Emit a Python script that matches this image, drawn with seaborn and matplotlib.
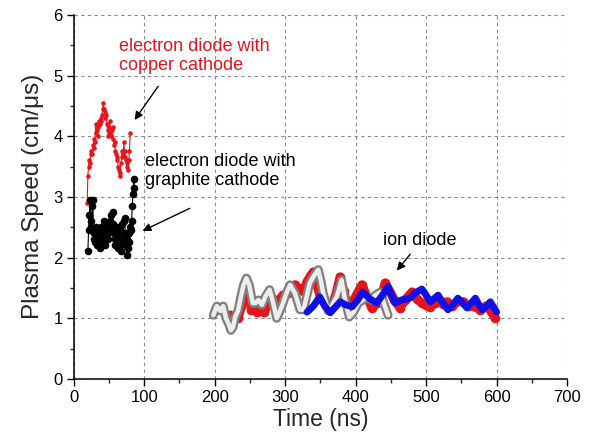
import numpy as np
import pandas as pd
import matplotlib
matplotlib.use("Agg")
import matplotlib.pyplot as plt
import seaborn as sns

# ---- data ----
cu_t = [19, 20, 21, 22, 23, 24, 25, 26, 27, 28, 29, 30, 31, 32, 33, 34, 35, 36, 37, 38,
        39, 40, 41, 42, 43, 44, 45, 46, 47, 48, 49, 50, 51, 52, 53, 54, 55, 56, 57, 58,
        59, 60, 61, 62, 63, 64, 65, 66, 67, 68, 69, 70, 71, 72, 73, 74, 75, 76, 77, 78, 79, 80]
cu_v = [2.9, 3.35, 3.5, 3.6, 3.55, 3.7, 3.75, 3.7, 3.85, 3.8, 3.95, 3.9, 4.2, 4.05, 4.1, 4.0,
        4.15, 4.25, 4.2, 4.3, 4.25, 4.35, 4.45, 4.55, 4.45, 4.4, 4.3, 4.35, 4.2, 4.1, 4.0, 4.15,
        4.25, 4.05, 4.0, 4.1, 4.15, 3.95, 3.85, 3.9, 3.75, 3.7, 3.6, 3.65, 3.5, 3.45, 3.35, 3.4,
        3.55, 3.65, 3.75, 3.7, 3.9, 3.75, 3.65, 3.6, 3.55, 3.5, 3.45, 3.6, 3.75, 4.05]

gr_t = [20, 21, 22, 23, 24, 25, 26, 27, 28, 29, 30, 31, 32, 33, 34, 35, 36, 37, 38, 39,
        40, 41, 42, 43, 44, 45, 46, 47, 48, 49, 50, 51, 52, 53, 54, 55, 56, 57, 58, 59,
        60, 61, 62, 63, 64, 65, 66, 67, 68, 69, 70, 71, 72, 73, 74, 75, 76, 77, 78, 79,
        80, 81, 82, 83, 84, 85, 86]
gr_v = [2.1, 2.45, 2.7, 2.95, 2.6, 2.5, 2.85, 2.95, 2.4, 2.3, 2.25, 2.5, 2.35, 2.2, 2.45, 2.4,
        2.3, 2.15, 2.3, 2.5, 2.35, 2.25, 2.4, 2.6, 2.3, 2.2, 2.35, 2.5, 2.4, 2.3, 2.55, 2.45,
        2.6, 2.7, 2.5, 2.75, 2.55, 2.4, 2.3, 2.2, 2.35, 2.5, 2.3, 2.15, 2.3, 2.45, 2.2, 2.1,
        2.3, 2.55, 2.35, 2.6, 2.65, 2.4, 2.2, 2.05, 2.3, 2.15, 2.4, 2.25, 2.5, 2.45, 2.6,
        2.85, 3.05, 3.3, 3.15]

ion_gray_t = [198, 203, 208, 212, 216, 220, 223, 226, 229, 233, 237, 241, 245, 249, 254, 258,
              262, 267, 272, 278, 283, 288, 292, 297, 302, 307, 314, 321, 326, 331, 335, 341,
              347, 351, 354, 358, 361, 367, 373, 377, 380, 385, 391, 397, 404, 410, 416, 422,
              428, 435, 440, 446]
ion_gray_v = [1.05, 1.2, 1.12, 1.2, 1.0, 0.9, 0.8, 0.85, 1.02, 1.12, 1.35, 1.55, 1.66, 1.55,
              1.25, 1.25, 1.3, 1.22, 1.36, 1.47, 1.25, 1.0, 1.1, 1.25, 1.42, 1.55, 1.41, 1.14,
              1.14, 1.38, 1.58, 1.7, 1.8, 1.6, 1.41, 1.25, 1.12, 1.22, 1.35, 1.5, 1.63, 1.3, 1.02,
              1.1, 1.25, 1.3, 1.35, 1.3, 1.38, 1.43, 1.25, 1.05]

ion_red_t = [222, 228, 233, 238, 243, 247, 252, 256, 260, 265, 270, 275, 281, 286, 291, 297,
             304, 309, 314, 320, 326, 331, 336, 340, 345, 350, 356, 361, 366, 372, 378, 383,
             389, 395, 402, 409, 416, 423, 430, 436, 442, 448, 455, 463, 470, 480, 487, 494,
             500, 506, 512, 518, 524, 530, 537, 545, 553, 560, 567, 577, 585, 592, 598]
ion_red_v = [1.05, 1.0, 1.0, 1.2, 1.4, 1.52, 1.14, 1.15, 1.1, 1.18, 1.1, 1.22, 1.33, 1.25, 1.3,
             1.38, 1.41, 1.5, 1.55, 1.48, 1.45, 1.6, 1.7, 1.76, 1.55, 1.35, 1.27, 1.22, 1.19,
             1.4, 1.68, 1.45, 1.19, 1.25, 1.4, 1.55, 1.35, 1.17, 1.25, 1.35, 1.58, 1.45, 1.3,
             1.17, 1.3, 1.43, 1.32, 1.25, 1.22, 1.19, 1.25, 1.3, 1.24, 1.27, 1.2, 1.28, 1.27,
             1.2, 1.2, 1.14, 1.2, 1.12, 1.0]

ion_blue_t = [331, 340, 349, 356, 364, 371, 378, 386, 395, 403, 410, 420, 430, 438, 446, 451,
              456, 465, 477, 485, 494, 500, 506, 512, 517, 524, 531, 538, 545, 552, 558, 564,
              570, 575, 580, 586, 591, 596, 600]
ion_blue_v = [1.10, 1.2, 1.35, 1.2, 1.09, 1.18, 1.27, 1.22, 1.19, 1.3, 1.43, 1.32, 1.25, 1.38,
              1.52, 1.38, 1.25, 1.3, 1.33, 1.42, 1.48, 1.38, 1.27, 1.33, 1.38, 1.25, 1.14, 1.22,
              1.33, 1.25, 1.17, 1.25, 1.33, 1.22, 1.14, 1.2, 1.27, 1.18, 1.10]

x_ticks = [0, 100, 200, 300, 400, 500, 600, 700]
y_ticks = [0, 1, 2, 3, 4, 5, 6]

# ---- plot ----
sns.set_style("white")
plt.rcParams['font.family'] = ['Liberation Sans', 'DejaVu Sans']

fig = plt.figure(figsize=(5.95, 4.37), dpi=100)
ax = fig.add_axes([0.124, 0.133, 0.829, 0.833])

RED = "#e8141c"
BLUE = "#1010e6"

# electron diode, copper cathode
sns.lineplot(x=cu_t, y=cu_v, ax=ax, color=RED, lw=0.8, marker="o", markersize=3.3,
             markeredgewidth=0, sort=False, zorder=3)
# electron diode, graphite cathode
sns.lineplot(x=gr_t, y=gr_v, ax=ax, color="black", lw=0.8, marker="o", markersize=5.5,
             markeredgewidth=0, sort=False, zorder=3)

# ion diode traces
sns.lineplot(x=ion_red_t, y=ion_red_v, ax=ax, color=RED, lw=6.5, marker="o", markersize=7,
             markeredgewidth=0, sort=False, zorder=3, solid_capstyle="round",
             solid_joinstyle="round")
# open-circle trace drawn as a hollow tube
sns.lineplot(x=ion_gray_t, y=ion_gray_v, ax=ax, color="0.5", lw=6.5, sort=False, zorder=4,
             solid_capstyle="round", solid_joinstyle="round")
sns.lineplot(x=ion_gray_t, y=ion_gray_v, ax=ax, color="0.93", lw=3.2, sort=False, zorder=5,
             solid_capstyle="round", solid_joinstyle="round")
sns.lineplot(x=ion_blue_t, y=ion_blue_v, ax=ax, color=BLUE, lw=5, sort=False, zorder=6,
             solid_capstyle="round", solid_joinstyle="round")

ax.set_xlim(0, 700)
ax.set_ylim(0, 6)
ax.set_xticks(x_ticks)
ax.set_yticks(y_ticks)
ax.set_xticks(np.arange(50, 700, 100), minor=True)
ax.set_yticks(np.arange(0.5, 6, 1.0), minor=True)
ax.tick_params(axis="both", which="major", direction="out", length=5, width=1,
               labelsize=12, colors="black", pad=3)
ax.tick_params(axis="both", which="minor", direction="out", length=3, width=1)
ax.tick_params(left=True, bottom=True, which="both")

ax.grid(True, which="major", linestyle=(0, (3, 3)), color="0.55", lw=0.8)
for s in ["top", "right"]:
    ax.spines[s].set_visible(False)
for s in ["left", "bottom"]:
    ax.spines[s].set_color("black")
    ax.spines[s].set_linewidth(1.1)

ax.set_xlabel("Time (ns)", fontsize=16.5, labelpad=2)
ax.set_ylabel("Plasma Speed (cm/\u03bcs)", fontsize=17.5, labelpad=7)

# annotations
ax.text(64, 5.62, "electron diode with\ncopper cathode", color=RED, fontsize=13,
        va="top", ha="left", linespacing=1.15)
ax.annotate("", xy=(84, 4.23), xytext=(122, 4.86),
            arrowprops=dict(arrowstyle="-|>", color="black", lw=1, mutation_scale=12))
ax.text(101, 3.72, "electron diode with\ngraphite cathode", color="black", fontsize=13,
        va="top", ha="left", linespacing=1.15)
ax.annotate("", xy=(94, 2.42), xytext=(168, 2.83),
            arrowprops=dict(arrowstyle="-|>", color="black", lw=1, mutation_scale=12))
ax.text(439, 2.42, "ion diode", color="black", fontsize=13, va="top", ha="left")
ax.annotate("", xy=(456, 1.75), xytext=(480, 2.09),
            arrowprops=dict(arrowstyle="-|>", color="black", lw=1, mutation_scale=12))

fig.savefig("out.png", dpi=100)
